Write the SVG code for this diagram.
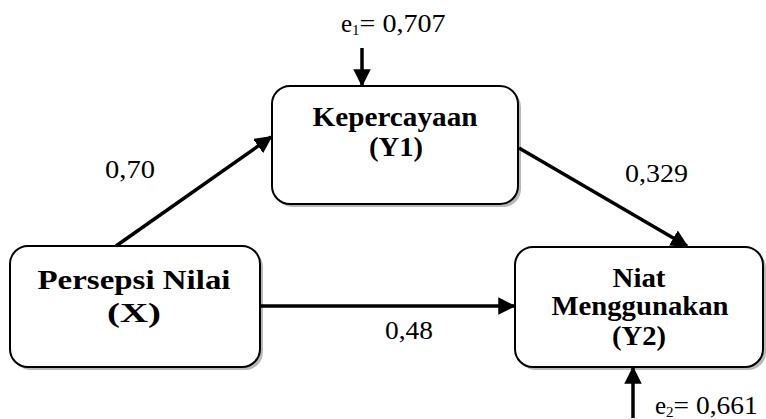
<svg xmlns="http://www.w3.org/2000/svg" width="766" height="419" viewBox="0 0 766 419">
  <style>
    .box { fill: #ffffff; stroke: #000000; stroke-width: 2; }
    .shadow { fill: #b8b8b8; }
    .title { font-family: "Liberation Serif", "Times New Roman", serif; font-weight: bold; font-size: 27px; text-anchor: middle; fill: #000; }
    .num { font-family: "Liberation Serif", "Times New Roman", serif; font-size: 25px; fill: #000; }
    .edge { stroke: #000; stroke-width: 3.5; fill: none; marker-end: url(#head); }
  </style>
  <defs>
    <marker id="head" viewBox="0 0 10 10" refX="9" refY="5" markerWidth="5" markerHeight="5" markerUnits="strokeWidth" orient="auto">
      <path d="M0,0 L10,5 L0,10 Z" fill="#000"/>
    </marker>
  </defs>

  <!-- Persepsi Nilai (X) -->
  <g id="node-x">
    <rect class="shadow" x="13" y="249" width="250" height="121" rx="18"/>
    <rect class="box" x="10" y="246" width="250" height="121" rx="18"/>
    <text class="title" x="134" y="289" textLength="193" lengthAdjust="spacingAndGlyphs">Persepsi Nilai</text>
    <text class="title" x="134" y="322" textLength="54" lengthAdjust="spacingAndGlyphs">(X)</text>
  </g>

  <!-- Kepercayaan (Y1) -->
  <g id="node-y1">
    <rect class="shadow" x="275" y="89" width="246" height="118" rx="18"/>
    <rect class="box" x="272" y="86" width="246" height="118" rx="18"/>
    <text class="title" x="395" y="126" textLength="165" lengthAdjust="spacingAndGlyphs">Kepercayaan</text>
    <text class="title" x="396" y="156" textLength="54" lengthAdjust="spacingAndGlyphs">(Y1)</text>
  </g>

  <!-- Niat Menggunakan (Y2) -->
  <g id="node-y2">
    <rect class="shadow" x="518" y="250" width="248" height="120" rx="18"/>
    <rect class="box" x="515" y="247" width="248" height="120" rx="18"/>
    <text class="title" x="639" y="287" textLength="53" lengthAdjust="spacingAndGlyphs">Niat</text>
    <text class="title" x="640" y="315" textLength="177" lengthAdjust="spacingAndGlyphs">Menggunakan</text>
    <text class="title" x="639" y="345" textLength="54" lengthAdjust="spacingAndGlyphs">(Y2)</text>
  </g>

  <!-- connectors -->
  <g id="connectors">
    <line class="edge" x1="116" y1="246" x2="271" y2="137"/>
    <line class="edge" x1="519" y1="148" x2="687" y2="246"/>
    <line class="edge" x1="260" y1="306" x2="514" y2="306"/>
    <line class="edge" x1="362" y1="48" x2="362" y2="85"/>
    <line class="edge" x1="633" y1="418" x2="633" y2="368"/>
  </g>

  <!-- path coefficients and error terms -->
  <g id="labels">
    <text class="num" x="105" y="178" textLength="50" lengthAdjust="spacingAndGlyphs">0,70</text>
    <text class="num" x="625" y="182" textLength="63" lengthAdjust="spacingAndGlyphs">0,329</text>
    <text class="num" x="385" y="339" textLength="48" lengthAdjust="spacingAndGlyphs">0,48</text>
    <text class="num" x="341" y="32">e<tspan font-size="15" dy="3">1</tspan><tspan dy="-3" textLength="86" lengthAdjust="spacingAndGlyphs">= 0,707</tspan></text>
    <text class="num" x="655" y="414">e<tspan font-size="15" dy="3">2</tspan><tspan dy="-3" textLength="84" lengthAdjust="spacingAndGlyphs">= 0,661</tspan></text>
  </g>
</svg>
